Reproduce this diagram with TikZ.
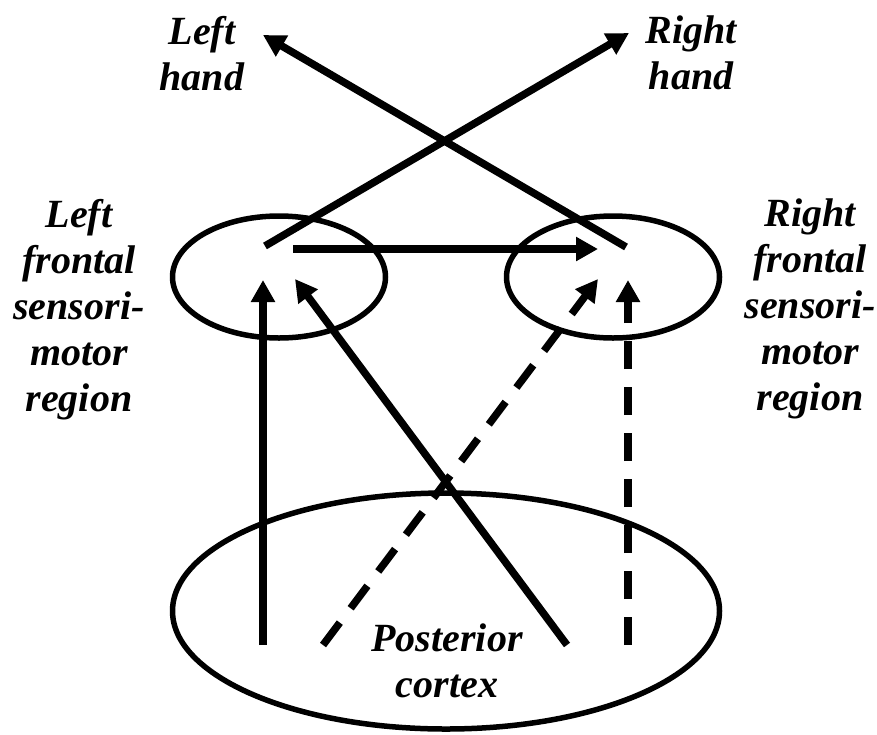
\documentclass[tikz,border=0pt]{standalone}
\usepackage{fontspec}
\setmainfont{Liberation Serif}
\usetikzlibrary{arrows.meta,shapes.geometric}
\begin{document}
\begin{tikzpicture}[x=1pt,y=-1pt,
  region/.style={draw, ellipse, line width=5.5pt, inner sep=0pt, outer sep=0pt},
  lbl/.style={font=\fontsize{40}{46}\selectfont\bfseries\itshape, align=center, inner sep=0pt, anchor=north},
  conn/.style={line width=7.5pt, -{Triangle[length=22pt,width=23pt]}},
  dconn/.style={conn, dash pattern=on 28pt off 18pt}]
\useasboundingbox (0,0) rectangle (877,734);
% regions
\node[region, minimum width=213pt, minimum height=122pt] (lf) at (279,277) {};
\node[region, minimum width=213pt, minimum height=122pt] (rf) at (613,277) {};
\node[region, minimum width=547pt, minimum height=236pt] (pc) at (446,611) {};
% labels
\node[lbl] (lh) at (202,16) {Left\\hand};
\node[lbl] (rh) at (691,16) {Right\\hand};
\node[lbl] (lfl) at (79,199) {Left\\frontal\\sensori-\\motor\\region};
\node[lbl] (rfl) at (810,199) {Right\\frontal\\sensori-\\motor\\region};
\node[lbl] (pcl) at (447,624) {Posterior\\cortex};
% end points
\coordinate (lfA) at (265,246);
\coordinate (lfB) at (293,249);
\coordinate (lfC) at (263,280);
\coordinate (lfD) at (295,279);
\coordinate (rfA) at (626,247);
\coordinate (rfB) at (598,249);
\coordinate (rfC) at (598,279);
\coordinate (rfD) at (628,280);
\coordinate (pc1) at (263,645);
\coordinate (pc2) at (323,645);
\coordinate (pc3) at (567,645);
\coordinate (pc4) at (628,645);
\coordinate (lhT) at (263,35);
\coordinate (rhT) at (629,33);
% connectors
\draw[conn] (lfA) -- (rhT);
\draw[conn] (rfA) -- (lhT);
\draw[conn] (lfB) -- (rfB);
\draw[conn] (pc1) -- (lfC);
\draw[conn] (pc3) -- (lfD);
\draw[dconn] (pc2) -- (rfC);
\draw[dconn] (pc4) -- (rfD);
\end{tikzpicture}
\end{document}
